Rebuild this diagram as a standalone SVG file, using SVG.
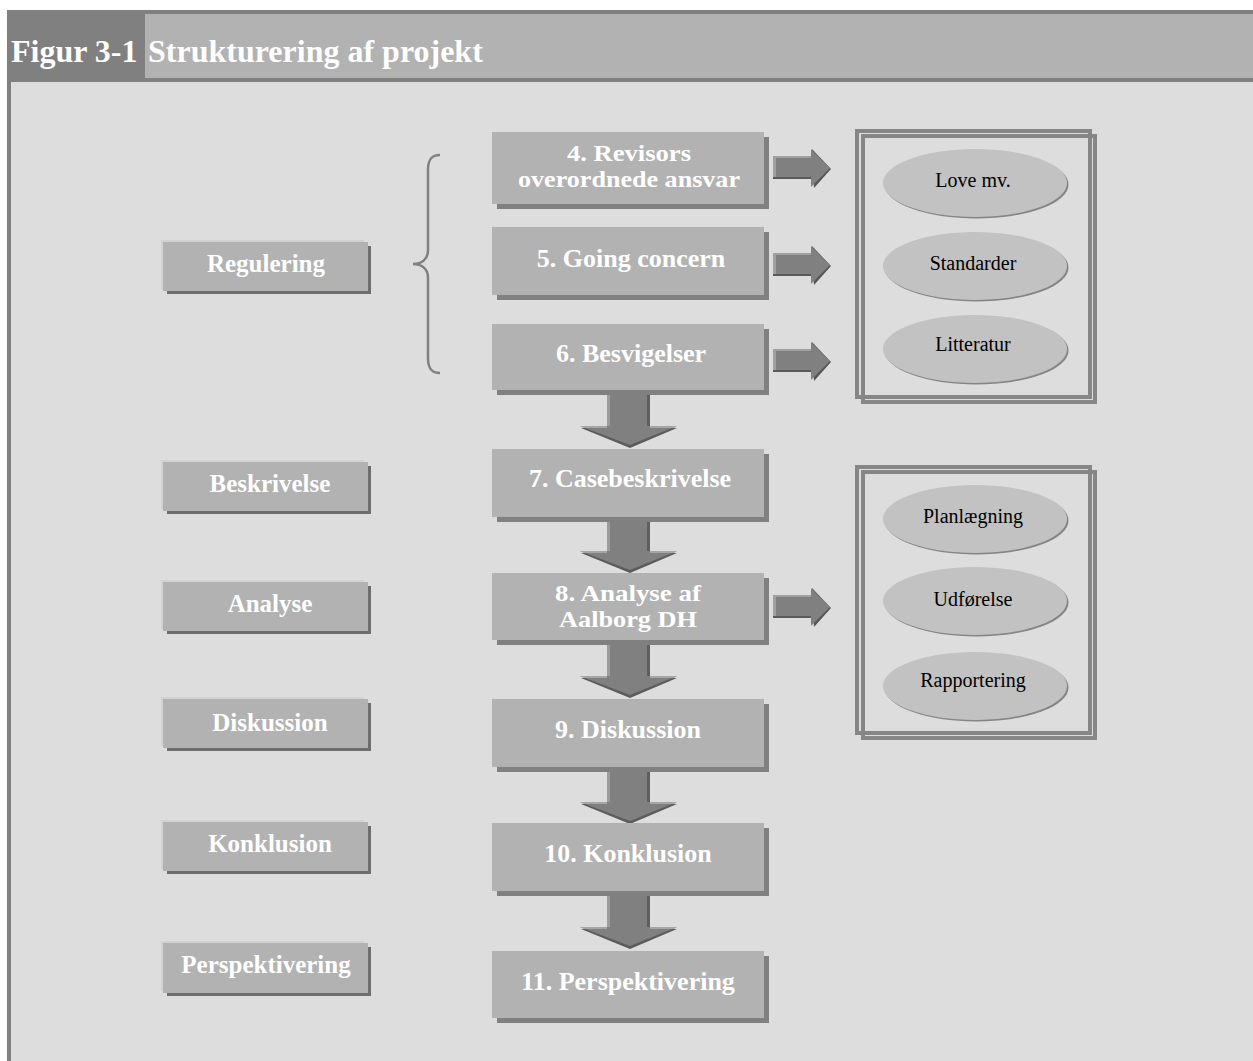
<svg xmlns="http://www.w3.org/2000/svg" xmlns:xlink="http://www.w3.org/1999/xlink" width="1253" height="1061" viewBox="0 0 1253 1061">
<style>
.title{font-family:"Liberation Serif","Times New Roman",serif;font-weight:bold;font-size:32px;fill:#ffffff}
.main{font-family:"Liberation Serif","Times New Roman",serif;font-weight:bold;font-size:26px;fill:#ffffff;text-anchor:middle}
.main2{font-family:"Liberation Serif","Times New Roman",serif;font-weight:bold;font-size:24px;fill:#ffffff;text-anchor:middle}
.side{font-family:"Liberation Serif","Times New Roman",serif;font-weight:bold;font-size:25px;fill:#ffffff;text-anchor:middle}
.ell{font-family:"Liberation Serif","Times New Roman",serif;font-size:20px;fill:#000000;text-anchor:middle}
.box{fill:#b2b2b2}
.shadow{fill:#808080}
.sshadow{fill:#6e6e6e}
.hl{fill:#d2d2d2}
.ellfill{fill:#c2c2c2}
.ellsh{fill:#858585}
.frame{fill:none;stroke:#868686;stroke-width:4}
</style>
<defs>
<g id="darr">
<polygon points="-47,33 49,33 2,53" fill="#5c5c5c"/>
<rect x="-21" y="0" width="43" height="33" fill="#808080"/>
<rect x="-21" y="0" width="3" height="33" fill="#9c9c9c"/>
<rect x="19" y="0" width="3" height="33" fill="#5e5e5e"/>
<polygon points="-48,31 49,31 2,50" fill="#808080"/>
<polygon points="-48,31 -21,31 -21,33 -44,33" fill="#a6a6a6"/>
<polygon points="22,31 49,31 46,33 22,33" fill="#a6a6a6"/>
</g>
<g id="rarr">
<polygon points="-18,-19 1,1 -16,20" fill="#555555"/>
<rect x="-57" y="-11" width="41" height="22" fill="#5a5a5a"/>
<rect x="-57" y="-12" width="40" height="21" fill="#808080"/>
<rect x="-57" y="-12" width="3" height="21" fill="#a0a0a0"/>
<rect x="-57" y="-12" width="40" height="2" fill="#a0a0a0"/>
<polygon points="-19,-19 0,0 -19,19" fill="#808080"/>
</g>
</defs>
<rect x="0" y="0" width="1253" height="1061" fill="#ffffff"/>
<g id="frame">
<rect x="7" y="82" width="1246" height="979" fill="#dddddd"/>
<rect x="7" y="82" width="4" height="979" fill="#808080"/>
<rect x="7" y="10" width="138" height="72" fill="#808080"/>
<rect x="145" y="10" width="1108" height="72" fill="#b2b2b2"/>
<rect x="145" y="10" width="1108" height="4" fill="#808080"/>
<rect x="145" y="78" width="1108" height="4" fill="#808080"/>
<text class="title" x="11" y="62">Figur 3-1</text>
<text class="title" x="148" y="62">Strukturering af projekt</text>
</g>
<g id="connectors">
<path d="M440 155 C431 155 428 160 428 170 L428 250 C428 259 422 264 413 264 C422 264 428 269 428 278 L428 358 C428 368 431 373 440 373" fill="none" stroke="#808080" stroke-width="2.5"/>
<use xlink:href="#rarr" x="830" y="168"/>
<use xlink:href="#rarr" x="830" y="265"/>
<use xlink:href="#rarr" x="830" y="361"/>
<use xlink:href="#rarr" x="830" y="607"/>
<use xlink:href="#darr" x="628" y="395"/>
<use xlink:href="#darr" x="628" y="520"/>
<use xlink:href="#darr" x="628" y="645"/>
<use xlink:href="#darr" x="628" y="771"/>
<use xlink:href="#darr" x="628" y="896"/>
</g>
<g id="regulering">
<rect class="hl" x="161" y="240" width="203" height="49"/>
<rect class="sshadow" x="167" y="246" width="204" height="48"/>
<rect class="box" x="163" y="242" width="205" height="49"/>
<text class="side" x="266" y="272">Regulering</text>
</g>
<g id="beskrivelse">
<rect class="hl" x="161" y="460" width="203" height="49"/>
<rect class="sshadow" x="167" y="466" width="204" height="48"/>
<rect class="box" x="163" y="462" width="205" height="49"/>
<text class="side" x="270" y="492">Beskrivelse</text>
</g>
<g id="analyse">
<rect class="hl" x="161" y="580" width="203" height="49"/>
<rect class="sshadow" x="167" y="586" width="204" height="48"/>
<rect class="box" x="163" y="582" width="205" height="49"/>
<text class="side" x="270" y="612">Analyse</text>
</g>
<g id="diskussion">
<rect class="hl" x="161" y="697" width="203" height="49"/>
<rect class="sshadow" x="167" y="703" width="204" height="48"/>
<rect class="box" x="163" y="699" width="205" height="49"/>
<text class="side" x="270" y="731">Diskussion</text>
</g>
<g id="konklusion">
<rect class="hl" x="161" y="820" width="203" height="49"/>
<rect class="sshadow" x="167" y="826" width="204" height="48"/>
<rect class="box" x="163" y="822" width="205" height="49"/>
<text class="side" x="270" y="852">Konklusion</text>
</g>
<g id="perspektivering">
<rect class="hl" x="161" y="941" width="203" height="50"/>
<rect class="sshadow" x="167" y="947" width="204" height="49"/>
<rect class="box" x="163" y="943" width="205" height="50"/>
<text class="side" x="266" y="973">Perspektivering</text>
</g>
<g id="n4">
<rect class="shadow" x="497" y="137" width="272" height="72"/>
<rect class="box" x="492" y="132" width="272" height="72"/>
<text class="main2" x="629" y="161" textLength="124" lengthAdjust="spacingAndGlyphs">4. Revisors</text>
<text class="main2" x="629" y="187" textLength="222" lengthAdjust="spacingAndGlyphs">overordnede ansvar</text>
</g>
<g id="n5">
<rect class="shadow" x="497" y="232" width="272" height="68"/>
<rect class="box" x="492" y="227" width="272" height="68"/>
<text class="main" x="631" y="267">5. Going concern</text>
</g>
<g id="n6">
<rect class="shadow" x="497" y="329" width="272" height="66"/>
<rect class="box" x="492" y="324" width="272" height="66"/>
<text class="main" x="631" y="362">6. Besvigelser</text>
</g>
<g id="n7">
<rect class="shadow" x="497" y="454" width="272" height="68"/>
<rect class="box" x="492" y="449" width="272" height="68"/>
<text class="main" x="630" y="487">7. Casebeskrivelse</text>
</g>
<g id="n8">
<rect class="shadow" x="497" y="578" width="272" height="67"/>
<rect class="box" x="492" y="573" width="272" height="67"/>
<text class="main2" x="628" y="601" textLength="146" lengthAdjust="spacingAndGlyphs">8. Analyse af</text>
<text class="main2" x="628" y="627" textLength="138" lengthAdjust="spacingAndGlyphs">Aalborg DH</text>
</g>
<g id="n9">
<rect class="shadow" x="497" y="704" width="272" height="68"/>
<rect class="box" x="492" y="699" width="272" height="68"/>
<text class="main" x="628" y="738">9. Diskussion</text>
</g>
<g id="n10">
<rect class="shadow" x="497" y="828" width="272" height="68"/>
<rect class="box" x="492" y="823" width="272" height="68"/>
<text class="main" x="628" y="862">10. Konklusion</text>
</g>
<g id="n11">
<rect class="shadow" x="497" y="956" width="272" height="67"/>
<rect class="box" x="492" y="951" width="272" height="67"/>
<text class="main" x="628" y="990">11. Perspektivering</text>
</g>
<g id="sources">
<rect class="frame" x="857" y="131" width="233" height="266"/>
<rect class="frame" x="863" y="136" width="232" height="266"/>
<g id="love">
<ellipse class="ellsh" cx="976.5" cy="184.5" rx="92" ry="34"/>
<ellipse class="ellfill" cx="975" cy="183" rx="92" ry="34"/>
<text class="ell" x="973" y="187">Love mv.</text>
</g>
<g id="standarder">
<ellipse class="ellsh" cx="976.5" cy="267.5" rx="92" ry="34"/>
<ellipse class="ellfill" cx="975" cy="266" rx="92" ry="34"/>
<text class="ell" x="973" y="270">Standarder</text>
</g>
<g id="litteratur">
<ellipse class="ellsh" cx="976.5" cy="350.5" rx="92" ry="34"/>
<ellipse class="ellfill" cx="975" cy="349" rx="92" ry="34"/>
<text class="ell" x="973" y="351">Litteratur</text>
</g>
</g>
<g id="phases">
<rect class="frame" x="857" y="467" width="233" height="266"/>
<rect class="frame" x="863" y="472" width="232" height="266"/>
<g id="planlaegning">
<ellipse class="ellsh" cx="976.5" cy="520.5" rx="92" ry="34"/>
<ellipse class="ellfill" cx="975" cy="519" rx="92" ry="34"/>
<text class="ell" x="973" y="523">Planlægning</text>
</g>
<g id="udfoerelse">
<ellipse class="ellsh" cx="976.5" cy="602.5" rx="92" ry="34"/>
<ellipse class="ellfill" cx="975" cy="601" rx="92" ry="34"/>
<text class="ell" x="973" y="606">Udførelse</text>
</g>
<g id="rapportering">
<ellipse class="ellsh" cx="976.5" cy="687.5" rx="92" ry="34"/>
<ellipse class="ellfill" cx="975" cy="686" rx="92" ry="34"/>
<text class="ell" x="973" y="687">Rapportering</text>
</g>
</g>
</svg>
